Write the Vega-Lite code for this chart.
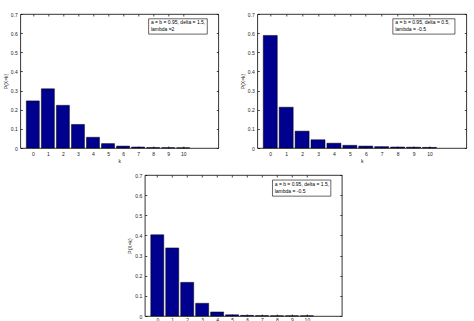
{
  "$schema": "https://vega.github.io/schema/vega-lite/v6.json",
  "padding": {"left": 2, "top": 11, "right": 5, "bottom": 0},
  "background": "white",
  "config": {
    "view": {"stroke": "#000", "strokeWidth": 0.8},
    "font": "Liberation Sans",
    "axis": {"domain": false, "grid": true, "gridColor": "#000", "gridWidth": 0.7, "gridOpacity": 1, "labelFontSize": 5, "titleFontSize": 5, "titleFontWeight": "normal", "labelColor": "#222", "titleColor": "#222", "ticks": false, "labelPadding": 3, "titlePadding": 2, "labelOverlap": false, "labelFlush": false, "labelBound": false}
  },
  "datasets": {
    "bars": [
      {"panel": 1, "k": 0, "p": 0.246}, {"panel": 1, "k": 1, "p": 0.309}, {"panel": 1, "k": 2, "p": 0.223}, {"panel": 1, "k": 3, "p": 0.123}, {"panel": 1, "k": 4, "p": 0.056}, {"panel": 1, "k": 5, "p": 0.023}, {"panel": 1, "k": 6, "p": 0.01}, {"panel": 1, "k": 7, "p": 0.005}, {"panel": 1, "k": 8, "p": 0.002}, {"panel": 1, "k": 9, "p": 0.0015}, {"panel": 1, "k": 10, "p": 0.001},
      {"panel": 2, "k": 0, "p": 0.588}, {"panel": 2, "k": 1, "p": 0.213}, {"panel": 2, "k": 2, "p": 0.088}, {"panel": 2, "k": 3, "p": 0.043}, {"panel": 2, "k": 4, "p": 0.025}, {"panel": 2, "k": 5, "p": 0.014}, {"panel": 2, "k": 6, "p": 0.01}, {"panel": 2, "k": 7, "p": 0.007}, {"panel": 2, "k": 8, "p": 0.005}, {"panel": 2, "k": 9, "p": 0.004}, {"panel": 2, "k": 10, "p": 0.003},
      {"panel": 3, "k": 0, "p": 0.403}, {"panel": 3, "k": 1, "p": 0.338}, {"panel": 3, "k": 2, "p": 0.167}, {"panel": 3, "k": 3, "p": 0.063}, {"panel": 3, "k": 4, "p": 0.02}, {"panel": 3, "k": 5, "p": 0.006}, {"panel": 3, "k": 6, "p": 0.003}, {"panel": 3, "k": 7, "p": 0.0015}, {"panel": 3, "k": 8, "p": 0.001}, {"panel": 3, "k": 9, "p": 0.001}, {"panel": 3, "k": 10, "p": 0.001}
    ],
    "notes": [
      {"panel": 1, "line1": "a = b = 0.95, delta = 1.5,", "line2": "lambda =2"},
      {"panel": 2, "line1": "a = b = 0.95, delta = 0.5,", "line2": "lambda = -0.5"},
      {"panel": 3, "line1": "a = b = 0.95, delta = 1.5,", "line2": "lambda = -0.5"}
    ]
  },
  "vconcat": [
    {
      "hconcat": [
        {
          "width": 198, "height": 134,
          "layer": [
            {"data": {"name": "bars"}, "transform": [{"filter": "datum.panel == 1"}],
             "mark": {"type": "bar", "orient": "vertical", "size": 13, "color": "#00008f", "stroke": "#000", "strokeWidth": 0.5},
             "encoding": {
               "x": {"field": "k", "type": "quantitative", "scale": {"domain": [-0.5, 12], "nice": false, "zero": false}, "axis": {"values": [0,1,2,3,4,5,6,7,8,9,10], "title": "k", "gridDash": [2, 130, 2], "labelOverlap": false}},
               "y": {"field": "p", "type": "quantitative", "scale": {"domain": [0, 0.7], "nice": false}, "axis": {"values": [0,0.1,0.2,0.3,0.4,0.5,0.6,0.7], "format": ".1~f", "title": "P(X=k)", "gridDash": [2, 194, 2], "labelOverlap": false}}
             }},
            {"data": {"name": "notes"}, "transform": [{"filter": "datum.panel == 1"}],
             "mark": {"type": "rect", "fill": "white", "stroke": "#000", "strokeWidth": 0.6},
             "encoding": {
               "x": {"datum": 7.7, "type": "quantitative", "axis": {"values": [0,1,2,3,4,5,6,7,8,9,10], "title": "k", "gridDash": [2, 130, 2], "labelOverlap": false}},
               "x2": {"datum": 11.6},
               "y": {"datum": 0.675, "type": "quantitative", "axis": {"values": [0,0.1,0.2,0.3,0.4,0.5,0.6,0.7], "format": ".1~f", "title": "P(X=k)", "gridDash": [2, 194, 2], "labelOverlap": false}},
               "y2": {"datum": 0.595}}},
            {"data": {"name": "notes"}, "transform": [{"filter": "datum.panel == 1"}],
             "mark": {"type": "text", "align": "left", "baseline": "middle", "fontSize": 5, "color": "#000", "dy": -4},
             "encoding": {
               "x": {"datum": 7.85, "type": "quantitative", "axis": {"values": [0,1,2,3,4,5,6,7,8,9,10], "title": "k", "gridDash": [2, 130, 2], "labelOverlap": false}},
               "y": {"datum": 0.635, "type": "quantitative", "axis": {"values": [0,0.1,0.2,0.3,0.4,0.5,0.6,0.7], "format": ".1~f", "title": "P(X=k)", "gridDash": [2, 194, 2], "labelOverlap": false}},
               "text": {"field": "line1"}}},
            {"data": {"name": "notes"}, "transform": [{"filter": "datum.panel == 1"}],
             "mark": {"type": "text", "align": "left", "baseline": "middle", "fontSize": 5, "color": "#000", "dy": 3},
             "encoding": {
               "x": {"datum": 7.85, "type": "quantitative", "axis": {"values": [0,1,2,3,4,5,6,7,8,9,10], "title": "k", "gridDash": [2, 130, 2], "labelOverlap": false}},
               "y": {"datum": 0.635, "type": "quantitative", "axis": {"values": [0,0.1,0.2,0.3,0.4,0.5,0.6,0.7], "format": ".1~f", "title": "P(X=k)", "gridDash": [2, 194, 2], "labelOverlap": false}},
               "text": {"field": "line2"}}}
          ]
        },
        {
          "width": 209, "height": 134,
          "layer": [
            {"data": {"name": "bars"}, "transform": [{"filter": "datum.panel == 2"}],
             "mark": {"type": "bar", "orient": "vertical", "size": 14, "color": "#00008f", "stroke": "#000", "strokeWidth": 0.5},
             "encoding": {
               "x": {"field": "k", "type": "quantitative", "scale": {"domain": [-0.5, 12], "nice": false, "zero": false}, "axis": {"values": [0,1,2,3,4,5,6,7,8,9,10], "title": "k", "gridDash": [2, 130, 2], "labelOverlap": false}},
               "y": {"field": "p", "type": "quantitative", "scale": {"domain": [0, 0.7], "nice": false}, "axis": {"values": [0,0.1,0.2,0.3,0.4,0.5,0.6,0.7], "format": ".1~f", "title": "P(X=k)", "gridDash": [2, 205, 2], "labelOverlap": false}}
             }},
            {"data": {"name": "notes"}, "transform": [{"filter": "datum.panel == 2"}],
             "mark": {"type": "rect", "fill": "white", "stroke": "#000", "strokeWidth": 0.6},
             "encoding": {
               "x": {"datum": 7.7, "type": "quantitative", "axis": {"values": [0,1,2,3,4,5,6,7,8,9,10], "title": "k", "gridDash": [2, 130, 2], "labelOverlap": false}},
               "x2": {"datum": 11.6},
               "y": {"datum": 0.675, "type": "quantitative", "axis": {"values": [0,0.1,0.2,0.3,0.4,0.5,0.6,0.7], "format": ".1~f", "title": "P(X=k)", "gridDash": [2, 205, 2], "labelOverlap": false}},
               "y2": {"datum": 0.595}}},
            {"data": {"name": "notes"}, "transform": [{"filter": "datum.panel == 2"}],
             "mark": {"type": "text", "align": "left", "baseline": "middle", "fontSize": 5, "color": "#000", "dy": -4},
             "encoding": {
               "x": {"datum": 7.85, "type": "quantitative", "axis": {"values": [0,1,2,3,4,5,6,7,8,9,10], "title": "k", "gridDash": [2, 130, 2], "labelOverlap": false}},
               "y": {"datum": 0.635, "type": "quantitative", "axis": {"values": [0,0.1,0.2,0.3,0.4,0.5,0.6,0.7], "format": ".1~f", "title": "P(X=k)", "gridDash": [2, 205, 2], "labelOverlap": false}},
               "text": {"field": "line1"}}},
            {"data": {"name": "notes"}, "transform": [{"filter": "datum.panel == 2"}],
             "mark": {"type": "text", "align": "left", "baseline": "middle", "fontSize": 5, "color": "#000", "dy": 3},
             "encoding": {
               "x": {"datum": 7.85, "type": "quantitative", "axis": {"values": [0,1,2,3,4,5,6,7,8,9,10], "title": "k", "gridDash": [2, 130, 2], "labelOverlap": false}},
               "y": {"datum": 0.635, "type": "quantitative", "axis": {"values": [0,0.1,0.2,0.3,0.4,0.5,0.6,0.7], "format": ".1~f", "title": "P(X=k)", "gridDash": [2, 205, 2], "labelOverlap": false}},
               "text": {"field": "line2"}}}
          ]
        }
      ],
      "spacing": 20
    },
    {
      "width": 197, "height": 141,
      "layer": [
        {"data": {"name": "bars"}, "transform": [{"filter": "datum.panel == 3"}],
         "mark": {"type": "bar", "orient": "vertical", "size": 13, "color": "#00008f", "stroke": "#000", "strokeWidth": 0.5},
         "encoding": {
           "x": {"field": "k", "type": "quantitative", "scale": {"domain": [-0.5, 12], "nice": false, "zero": false}, "axis": {"values": [0,1,2,3,4,5,6,7,8,9,10], "title": "k", "gridDash": [2, 137, 2], "labelOverlap": false, "labelPadding": 1}},
           "y": {"field": "p", "type": "quantitative", "scale": {"domain": [0, 0.7], "nice": false}, "axis": {"values": [0,0.1,0.2,0.3,0.4,0.5,0.6,0.7], "format": ".1~f", "title": "P(X=k)", "gridDash": [2, 193, 2], "labelOverlap": false}}
         }},
        {"data": {"name": "notes"}, "transform": [{"filter": "datum.panel == 3"}],
         "mark": {"type": "rect", "fill": "white", "stroke": "#000", "strokeWidth": 0.6},
         "encoding": {
           "x": {"datum": 7.7, "type": "quantitative", "axis": {"values": [0,1,2,3,4,5,6,7,8,9,10], "title": "k", "gridDash": [2, 137, 2], "labelOverlap": false, "labelPadding": 1}},
           "x2": {"datum": 11.6},
           "y": {"datum": 0.675, "type": "quantitative", "axis": {"values": [0,0.1,0.2,0.3,0.4,0.5,0.6,0.7], "format": ".1~f", "title": "P(X=k)", "gridDash": [2, 193, 2], "labelOverlap": false}},
           "y2": {"datum": 0.595}}},
        {"data": {"name": "notes"}, "transform": [{"filter": "datum.panel == 3"}],
         "mark": {"type": "text", "align": "left", "baseline": "middle", "fontSize": 5, "color": "#000", "dy": -4},
         "encoding": {
           "x": {"datum": 7.85, "type": "quantitative", "axis": {"values": [0,1,2,3,4,5,6,7,8,9,10], "title": "k", "gridDash": [2, 137, 2], "labelOverlap": false, "labelPadding": 1}},
           "y": {"datum": 0.635, "type": "quantitative", "axis": {"values": [0,0.1,0.2,0.3,0.4,0.5,0.6,0.7], "format": ".1~f", "title": "P(X=k)", "gridDash": [2, 193, 2], "labelOverlap": false}},
           "text": {"field": "line1"}}},
        {"data": {"name": "notes"}, "transform": [{"filter": "datum.panel == 3"}],
         "mark": {"type": "text", "align": "left", "baseline": "middle", "fontSize": 5, "color": "#000", "dy": 3},
         "encoding": {
           "x": {"datum": 7.85, "type": "quantitative", "axis": {"values": [0,1,2,3,4,5,6,7,8,9,10], "title": "k", "gridDash": [2, 137, 2], "labelOverlap": false, "labelPadding": 1}},
           "y": {"datum": 0.635, "type": "quantitative", "axis": {"values": [0,0.1,0.2,0.3,0.4,0.5,0.6,0.7], "format": ".1~f", "title": "P(X=k)", "gridDash": [2, 193, 2], "labelOverlap": false}},
           "text": {"field": "line2"}}}
      ]
    }
  ],
  "spacing": 8,
  "center": true
}
